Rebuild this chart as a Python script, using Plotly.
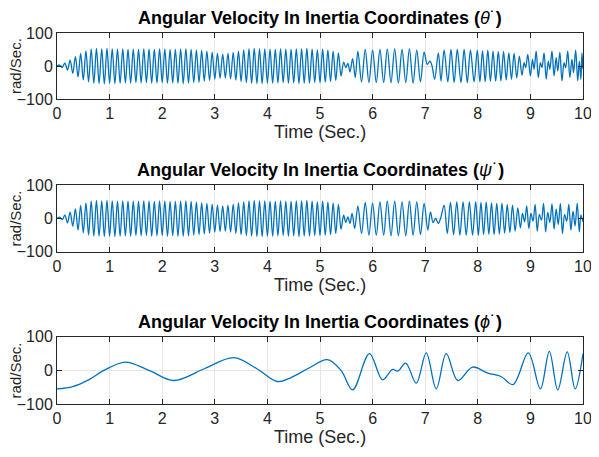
import plotly.graph_objects as go
from plotly.subplots import make_subplots

# ---------------- data (extrema) ----------------
theta_t = [0.00, 0.05, 0.10, 0.15, 0.20, 0.25, 0.30, 0.35, 0.40, 0.45, 0.50, 0.55, 0.60, 0.65, 0.70, 0.75, 0.80, 0.85, 0.90, 0.95,
           1.00, 1.05, 1.10, 1.15, 1.20, 1.25, 1.30, 1.35, 1.40, 1.45, 1.50, 1.55, 1.60, 1.65, 1.70, 1.75, 1.80, 1.85, 1.90, 1.95,
           2.00, 2.05, 2.10, 2.15, 2.20, 2.25, 2.30, 2.35, 2.40, 2.45, 2.50, 2.55, 2.60, 2.65, 2.70, 2.75, 2.80, 2.85, 2.90, 2.95,
           3.00, 3.05, 3.10, 3.15, 3.20, 3.25, 3.30, 3.35, 3.40, 3.45, 3.50, 3.55, 3.60, 3.65, 3.70, 3.75, 3.80, 3.85, 3.90, 3.95,
           4.00, 4.05, 4.10, 4.15, 4.20, 4.25, 4.30, 4.35, 4.40, 4.45, 4.50, 4.55, 4.60, 4.65, 4.70, 4.75, 4.80, 4.85, 4.90, 4.95,
           5.00, 5.05, 5.10, 5.15, 5.20, 5.25, 5.30, 5.35, 5.40, 5.45, 5.49, 5.53, 5.57, 5.62, 5.67,
           5.72, 5.79, 5.86, 5.93, 6.00, 6.07, 6.14, 6.21, 6.28, 6.35, 6.42, 6.49, 6.56, 6.63, 6.70, 6.77, 6.84, 6.91, 6.98,
           7.04, 7.09, 7.13, 7.18, 7.25, 7.30, 7.36, 7.43, 7.49, 7.55, 7.61, 7.68, 7.74, 7.80, 7.86, 7.93, 7.99,
           8.04, 8.09, 8.14, 8.19, 8.24, 8.29, 8.34, 8.39, 8.44, 8.49, 8.54, 8.59, 8.64, 8.69, 8.74, 8.79, 8.84, 8.88, 8.91, 8.95,
           9.00, 9.04, 9.07, 9.11, 9.15, 9.19, 9.22, 9.26, 9.30, 9.34, 9.37, 9.41, 9.45, 9.49, 9.52, 9.56, 9.60, 9.64, 9.67, 9.71,
           9.75, 9.79, 9.82, 9.86, 9.90, 9.93, 9.96, 9.98, 10.00]
theta_v = [0, 3, -4, 9, -12, 18, -22, 28, -33, 38, -42, 46, -48, 51, -52, 53, -53, 52, -54, 53,
           -52, 52, -53, 51, -52, 52, -51, 50, -52, 51, -50, 50, -51, 52, -50, 51, -52, 50, -51, 52,
           -50, 51, -52, 50, -51, 50, -52, 51, -53, 52, -52, 50, -50, 48, -49, 47, -46, 45, -44, 42,
           -40, 38, -37, 36, -36, 38, -39, 41, -43, 45, -47, 49, -50, 52, -52, 53, -53, 52, -53, 52,
           -52, 51, -52, 50, -51, 52, -50, 51, -52, 50, -51, 52, -53, 52, -52, 53, -52, 51, -50, 49,
           -50, 51, -49, 48, -47, 45, -44, 40, -30, 12, -5, 8, -18, 22, -35,
           45, -48, 50, -50, 48, -50, 50, -50, 51, -50, 52, -52, 50, -50, 52, -52, 48, -48, 42,
           5, 15, 0, -40, 40, -45, 48, -48, 50, -50, 50, -50, 50, -50, 48, -48, 48,
           -48, 46, -47, 48, -46, 45, -46, 44, -45, 44, -42, 40, -40, 38, -36, 30, -28, 10, -5, 35,
           -30, 20, -10, 45, -35, 10, -5, 40, -40, 15, -10, 45, -30, 25, -15, 42, -45, 10, -5, 45,
           -35, 20, -20, 48, -45, 15, -40, 40, -10]

psi_t = [0.00, 0.05, 0.10, 0.15, 0.20, 0.25, 0.30, 0.35, 0.40, 0.45, 0.50, 0.55, 0.60, 0.65, 0.70, 0.75, 0.80, 0.85, 0.90, 0.95,
         1.00, 1.05, 1.10, 1.15, 1.20, 1.25, 1.30, 1.35, 1.40, 1.45, 1.50, 1.55, 1.60, 1.65, 1.70, 1.75, 1.80, 1.85, 1.90, 1.95,
         2.00, 2.05, 2.10, 2.15, 2.20, 2.25, 2.30, 2.35, 2.40, 2.45, 2.50, 2.55, 2.60, 2.65, 2.70, 2.75, 2.80, 2.85, 2.90, 2.95,
         3.00, 3.05, 3.10, 3.15, 3.20, 3.25, 3.30, 3.35, 3.40, 3.45, 3.50, 3.55, 3.60, 3.65, 3.70, 3.75, 3.80, 3.85, 3.90, 3.95,
         4.00, 4.05, 4.10, 4.15, 4.20, 4.25, 4.30, 4.35, 4.40, 4.45, 4.50, 4.55, 4.60, 4.65, 4.70, 4.75, 4.80, 4.85, 4.90, 4.95,
         5.00, 5.05, 5.10, 5.15, 5.20, 5.25, 5.30, 5.35, 5.40, 5.45, 5.49, 5.53, 5.57, 5.61, 5.66,
         5.72, 5.79, 5.86, 5.93, 6.00, 6.07, 6.14, 6.21, 6.28, 6.35, 6.42, 6.49, 6.56, 6.63, 6.70, 6.77, 6.84, 6.91, 6.98,
         7.05, 7.10, 7.15, 7.20, 7.25, 7.30, 7.36, 7.42, 7.48, 7.54, 7.60, 7.66, 7.72, 7.78, 7.84, 7.90, 7.96,
         8.01, 8.06, 8.11, 8.16, 8.21, 8.26, 8.31, 8.36, 8.41, 8.46, 8.51, 8.56, 8.61, 8.66, 8.71, 8.76, 8.81, 8.85, 8.89, 8.93,
         8.97, 9.01, 9.05, 9.09, 9.13, 9.17, 9.21, 9.25, 9.29, 9.33, 9.37, 9.41, 9.45, 9.49, 9.53, 9.57, 9.61, 9.65, 9.69, 9.73,
         9.77, 9.81, 9.85, 9.89, 9.93, 9.96, 10.00]
psi_v = [0, 4, -3, 10, -13, 19, -23, 29, -34, 39, -43, 47, -49, 52, -53, 54, -53, 53, -54, 54,
         -53, 53, -54, 52, -53, 53, -52, 52, -53, 52, -51, 52, -52, 53, -51, 52, -53, 51, -52, 53,
         -51, 52, -53, 51, -52, 51, -53, 52, -53, 53, -52, 51, -50, 49, -48, 47, -46, 45, -44, 43,
         -41, 40, -39, 38, -38, 40, -41, 43, -45, 47, -48, 50, -51, 53, -53, 54, -54, 53, -54, 53,
         -53, 52, -53, 51, -52, 53, -51, 52, -53, 51, -52, 53, -54, 53, -53, 54, -53, 52, -51, 50,
         -51, 52, -50, 49, -48, 46, -45, 42, -32, 10, -12, 5, -15, 15, -30,
         38, -45, 48, -50, 46, -50, 50, -50, 52, -52, 52, -52, 50, -52, 52, -50, 50, -48, 45,
         -35, 20, -12, 0, -15, 5, 40, -45, 48, -48, 50, -50, 50, -50, 50, -50, 50,
         -50, 48, -48, 49, -47, 47, -48, 45, -46, 46, -44, 42, -42, 40, -38, 32, -28, 15, -10, 38,
         -30, 15, -8, 42, -38, 12, -5, 45, -40, 18, -12, 44, -32, 28, -18, 45, -45, 12, -8, 42,
         -35, 22, -22, 46, -40, 10, -10]

phi_t = [0.00, 0.30, 0.60, 0.89, 1.30, 1.75, 2.22, 2.80, 3.36, 3.80, 4.19, 4.44, 4.80,
         5.14, 5.40, 5.62, 5.94, 6.19, 6.38, 6.48, 6.63, 6.83, 7.02, 7.21, 7.40, 7.62, 7.90,
         8.19, 8.44, 8.67, 8.96, 9.19, 9.36, 9.52, 9.70, 9.85, 10.00]
phi_v = [-55, -48, -28, 0, 25, 0, -30, 5, 38, 5, -33, -22, 8,
         32, 0, -58, 50, -28, 3, -2, 22, -38, 52, -55, 50, -30, 10,
         -8, -18, -42, 52, -55, 57, -58, 55, -55, 50]

x_ticks = [0, 1, 2, 3, 4, 5, 6, 7, 8, 9, 10]
y_ticks = [-100, 0, 100]
titles = ["θ", "ψ", "ϕ"]

# ---------------- figure ----------------
# the page body has an 8 px margin, so the figure is 8 px smaller and margins shifted
W, H = 591, 449
ML, MR, MT, MB = 49, 16, 25, 53
fig = make_subplots(rows=3, cols=1)
domains = [[0.822, 1.0], [0.410, 0.590], [0.0, 0.181]]
line_color = "#0072BD"
font_fam = "Arial, Liberation Sans, Helvetica, sans-serif"

series = [(theta_t, theta_v), (psi_t, psi_v), (phi_t, phi_v)]
for i, (tt, vv) in enumerate(series):
    fig.add_trace(go.Scatter(x=tt, y=vv, mode="lines",
                             line=dict(color=line_color, width=1.3, shape="spline", smoothing=1.0),
                             showlegend=False, hoverinfo="skip", cliponaxis=True), row=i + 1, col=1)

for i in range(3):
    ax = "" if i == 0 else str(i + 1)
    fig.update_layout(**{
        "xaxis" + ax: dict(domain=[0, 1], range=[0, 10], tickvals=x_ticks, ticks="inside", ticklen=5,
                           tickcolor="#262626", showline=True, linecolor="#262626", linewidth=1,
                           mirror="ticks", showgrid=True, gridcolor="#e6e6e6", gridwidth=1,
                           zeroline=False, automargin=False,
                           tickfont=dict(size=16, color="#262626", family=font_fam)),
        "yaxis" + ax: dict(domain=domains[i], range=[-100, 100], tickvals=y_ticks, ticks="inside", ticklen=5,
                           tickcolor="#262626", showline=True, linecolor="#262626", linewidth=1,
                           mirror="ticks", showgrid=True, gridcolor="#e6e6e6", gridwidth=1,
                           zeroline=False, automargin=False,
                           tickfont=dict(size=16, color="#262626", family=font_fam)),
    })
    xr = "x" if i == 0 else "x" + str(i + 1)
    yr = "y" if i == 0 else "y" + str(i + 1)
    fig.add_annotation(text="<b>Angular Velocity In Inertia Coordinates (</b><i>" + titles[i] + "</i>˙<b>)</b>",
                       xref=xr + " domain", yref=yr + " domain", x=0.5, y=1, yshift=15,
                       xanchor="center", yanchor="middle", showarrow=False,
                       font=dict(size=18, color="#000000", family=font_fam))
    fig.add_annotation(text="Time (Sec.)", xref=xr + " domain", yref=yr + " domain", x=0.5, y=0, yshift=-33,
                       xanchor="center", yanchor="middle", showarrow=False,
                       font=dict(size=18, color="#262626", family=font_fam))
    fig.add_annotation(text="rad/Sec.", xref="paper", yref=yr + " domain", x=0, xshift=-42, y=0.5,
                       textangle=-90, xanchor="center", yanchor="middle", showarrow=False,
                       font=dict(size=15, color="#262626", family=font_fam))

fig.update_layout(width=W, height=H, margin=dict(l=ML, r=MR, t=MT, b=MB, autoexpand=False),
                  plot_bgcolor="white", paper_bgcolor="white",
                  font=dict(family=font_fam, color="#262626"))

fig.write_html("out.html")
